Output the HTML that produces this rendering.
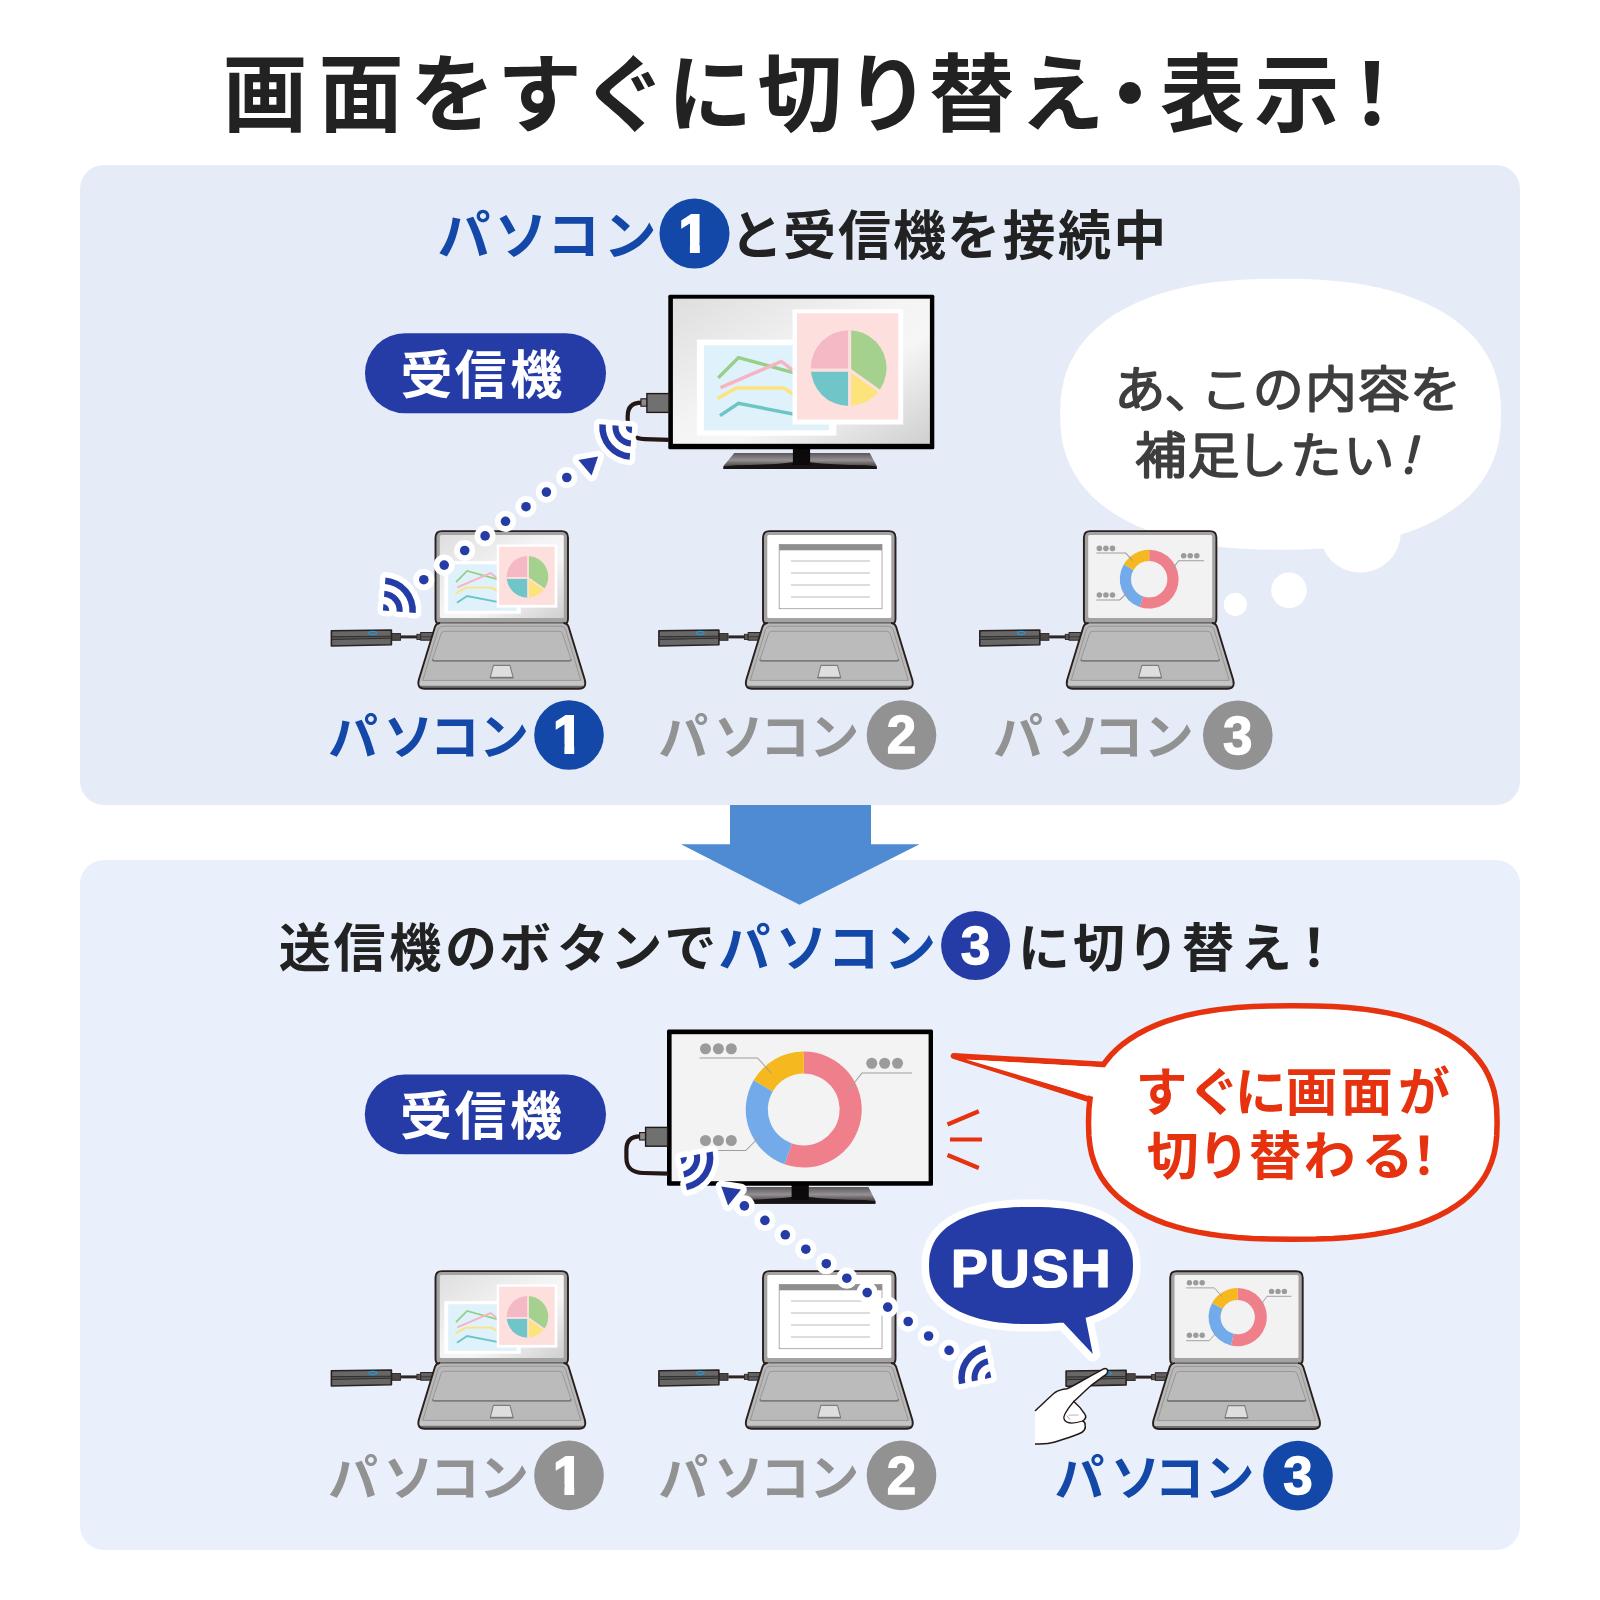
<!DOCTYPE html>
<html lang="ja"><head><meta charset="utf-8"><title>画面をすぐに切り替え・表示！</title>
<style>
html,body{margin:0;padding:0;background:#fff;width:1600px;height:1600px;overflow:hidden;}
svg{display:block;font-family:'Liberation Sans','Noto Sans CJK JP',sans-serif;}
</style></head>
<body>
<svg width="1600" height="1600" viewBox="0 0 1600 1600">
<defs>
<g id="wifi"><path d="M0,0 L0,-6.4 A6.4,6.4 0 0 1 6.4,0 Z M0,-19.8 A19.8,19.8 0 0 1 19.8,0 L13.7,0 A13.7,13.7 0 0 0 0,-13.7 Z M0,-33 A33,33 0 0 1 33,0 L26.5,0 A26.5,26.5 0 0 0 0,-26.5 Z" fill="#fff" stroke="#fff" stroke-width="11" stroke-linejoin="round"/><path d="M0,0 L0,-6.4 A6.4,6.4 0 0 1 6.4,0 Z M0,-19.8 A19.8,19.8 0 0 1 19.8,0 L13.7,0 A13.7,13.7 0 0 0 0,-13.7 Z M0,-33 A33,33 0 0 1 33,0 L26.5,0 A26.5,26.5 0 0 0 0,-26.5 Z" fill="#253ba6"/></g>
<linearGradient id="scr" x1="0" y1="0" x2="1" y2="1">
<stop offset="0" stop-color="#dedede"/><stop offset="0.45" stop-color="#f4f4f4"/><stop offset="0.62" stop-color="#f6f6f6"/><stop offset="1" stop-color="#cfcfcf"/></linearGradient>
<linearGradient id="stand" x1="0" y1="0" x2="0" y2="1">
<stop offset="0" stop-color="#5c575a"/><stop offset="0.45" stop-color="#959093"/><stop offset="0.8" stop-color="#4e4a4c"/><stop offset="1" stop-color="#1c1a1b"/></linearGradient>
<g id="chartA">
<rect x="696.9" y="339.6" width="139.5" height="96.1" fill="#fff"/>
<rect x="704" y="345.3" width="125" height="85" fill="#dff1fa"/>
<g fill="none" stroke-width="3.4" stroke-linejoin="miter">
<polyline points="718.3,377.9 738.5,357.6 796,373.3" stroke="#96cf86"/>
<polyline points="720.5,387.6 781.3,361.5 796,372.6" stroke="#f7b3c2"/>
<polyline points="717.6,398.6 736.3,388 783.5,388 796,395.8" stroke="#fde37c"/>
<polyline points="720,415.7 738.5,403.3 796,414.6" stroke="#6cc5c4"/>
</g>
<rect x="792.5" y="309.3" width="110.7" height="115.2" fill="#fff"/>
<rect x="797" y="313.3" width="101.3" height="106.2" fill="#fde0dd"/>
<clipPath id="pieclip"><circle cx="848.7" cy="368.1" r="37.9"/></clipPath>
<g clip-path="url(#pieclip)" stroke="#fde0dd" stroke-width="3" stroke-linejoin="miter">
<path d="M849.6,370.1 L849.6,320 L900,320 L900,405.7 Z" fill="#a4d18e"/>
<path d="M849.6,370.1 L900,405.7 L900,420 L849.6,420 Z" fill="#fde37c"/>
<path d="M849.6,370.1 L849.6,420 L800,420 L800,370.1 Z" fill="#70c5c8"/>
<path d="M849.6,370.1 L800,370.1 L800,320 L849.6,320 Z" fill="#f5b9c6"/>
</g>
</g>
<g id="chartB">
<path d="M803.75,1051.50 A58,58 0 1 1 784.58,1164.24 L791.88,1143.38 A35.9,35.9 0 1 0 803.75,1073.60 Z" fill="#f07f8c"/>
<path d="M784.58,1164.24 A58,58 0 0 1 753.67,1080.24 L772.75,1091.39 A35.9,35.9 0 0 0 791.88,1143.38 Z" fill="#72aaea"/>
<path d="M753.67,1080.24 A58,58 0 0 1 803.75,1051.50 L803.75,1073.60 A35.9,35.9 0 0 0 772.75,1091.39 Z" fill="#f5b81f"/>
<g fill="#9b9b9b"><circle cx="705.50" cy="1048.75" r="5.5"/><circle cx="718.40" cy="1048.75" r="5.5"/><circle cx="731.30" cy="1048.75" r="5.5"/><circle cx="871.75" cy="1063.25" r="5.5"/><circle cx="884.65" cy="1063.25" r="5.5"/><circle cx="897.55" cy="1063.25" r="5.5"/><circle cx="705.50" cy="1140.5" r="5.5"/><circle cx="718.40" cy="1140.5" r="5.5"/><circle cx="731.30" cy="1140.5" r="5.5"/></g>
<g fill="none" stroke="#9e9e9e" stroke-width="1.05">
<polyline vector-effect="non-scaling-stroke" points="699.5,1058 757.5,1058 771.25,1073"/>
<polyline vector-effect="non-scaling-stroke" points="912,1073 862,1073 847,1092"/>
<polyline vector-effect="non-scaling-stroke" points="699.5,1150.5 745.75,1150.5 761.25,1135"/>
</g></g>
<g id="chartB2">
<path d="M68.40,17.50 A29.2,29.2 0 1 1 61.63,75.11 L64.41,63.43 A17.2,17.2 0 1 0 68.40,29.50 Z" fill="#f07f8c"/>
<path d="M61.63,75.11 A29.2,29.2 0 0 1 42.81,32.63 L53.33,38.41 A17.2,17.2 0 0 0 64.41,63.43 Z" fill="#72aaea"/>
<path d="M42.81,32.63 A29.2,29.2 0 0 1 68.40,17.50 L68.40,29.50 A17.2,17.2 0 0 0 53.33,38.41 Z" fill="#f5b81f"/>
<g fill="#9b9b9b"><circle cx="20.10" cy="12.3" r="2.7"/><circle cx="26.50" cy="12.3" r="2.7"/><circle cx="32.90" cy="12.3" r="2.7"/><circle cx="102.30" cy="21" r="2.7"/><circle cx="108.70" cy="21" r="2.7"/><circle cx="115.10" cy="21" r="2.7"/><circle cx="20.10" cy="64.8" r="2.7"/><circle cx="26.50" cy="64.8" r="2.7"/><circle cx="32.90" cy="64.8" r="2.7"/></g>
<g fill="none" stroke="#9e9e9e" stroke-width="0.95">
<polyline points="16.8,17.5 45.1,17.5 52.6,26.2"/>
<polyline points="122.1,25.9 97.6,25.9 90.1,36.7"/>
<polyline points="16.8,70.3 39.9,70.3 47.7,61.6"/>
</g></g>
<g id="doc">
<rect x="17.1" y="14.3" width="102.8" height="64.2" fill="#fff" stroke="#9a9a9a" stroke-width="0.8"/>
<rect x="17.1" y="14.3" width="102.8" height="5.8" fill="#8e8e8e"/>
<g stroke="#d2d2d2" stroke-width="1.5"><path d="M28.9,30.9H107.8M28.9,42.8H107.8M28.9,54.9H107.8M28.9,66.8H107.8"/></g>
</g>
<g id="dongle">
<path d="M-33.8,106.7 H-17" stroke="#2e2623" stroke-width="3" fill="none"/>
<rect x="-43" y="103.3" width="8.9" height="6.8" fill="#4a4645" stroke="#2e2623" stroke-width="0.9"/>
<rect x="-17.7" y="104.1" width="3.8" height="5.2" fill="#5a5655" stroke="#2e2623" stroke-width="0.9"/>
<rect x="-13.9" y="102.3" width="13" height="7.7" fill="#626262" stroke="#2e2623" stroke-width="1"/>
<path d="M-13.5,106.6 H-2" stroke="#2e2a29" stroke-width="0.8"/>
<path d="M-103.2,100.6 L-43.2,99.8 L-43.2,114.5 L-103.2,115.8 Z" fill="#676767" stroke="#2a2220" stroke-width="1.6" stroke-linejoin="round"/>
<path d="M-102.6,106.5 L-43.8,106 L-43.8,108 L-102.6,109.3 Z" fill="#545454"/>
<path d="M-102.8,106.5 L-43.6,106 M-102.8,109.3 L-43.6,108" stroke="#2e2827" stroke-width="0.9" fill="none"/>
<ellipse cx="-61.8" cy="102.8" rx="3.8" ry="1.6" fill="none" stroke="#1e9be0" stroke-width="1.1"/>
</g>
<g id="lid">
<path d="M0.9,7.4 Q0.9,0.9 7.4,0.9 L126.9,0.9 Q133.4,0.9 133.4,7.4 L133.4,88.6 Q133.4,93.8 129.4,93.8 L4.9,93.8 Q0.9,93.8 0.9,88.6 Z" fill="#a3a3a3" stroke="#2a1f1c" stroke-width="1.9"/>
</g>
<g id="base">
<path d="M7,92.6 L127.4,92.6 Q132.6,92.6 134,96.6 L150.2,149.6 Q152.4,158.6 144.3,158.6 L-9.9,158.6 Q-18,158.6 -15.8,149.6 L0.4,96.6 Q1.8,92.6 7,92.6 Z" fill="#b9b9b9"/><path d="M6,92.7 L128.4,92.7" fill="none" stroke="#5c5655" stroke-width="1.2"/>
<path d="M-13.6,150.2 L148,150.2 L149.4,154 Q150.2,157.6 144.3,157.6 L-9.9,157.6 Q-15.8,157.6 -15,154 Z" fill="#c5c5c5"/>
<path d="M-14.6,155.6 L149,155.6 Q149.6,157.7 144.3,157.7 L-9.9,157.7 Q-15.2,157.7 -14.6,155.6 Z" fill="#727272"/>
<path d="M8.4,96 L126,96 Q129.8,96 130.9,99 L146.2,150.2 L-11.8,150.2 L3.5,99 Q4.6,96 8.4,96 Z" fill="none" stroke="#8a8a8a" stroke-width="0.75" stroke-linejoin="round"/>
<path d="M10,101.1 L124.4,101.1 Q127,101.1 127.8,103.2 L136.2,128.4 Q136.9,130.4 134.5,130.4 L-0.1,130.4 Q-2.5,130.4 -1.8,128.4 L6.6,103.2 Q7.4,101.1 10,101.1 Z" fill="#bbbbbb" stroke="#8f8f8f" stroke-width="0.8" stroke-linejoin="round"/>
<path d="M-1.6,129.2 Q-2.4,130.6 -0.1,130.6 L134.5,130.6 Q136.8,130.6 136,129.2" fill="none" stroke="#7c7c7c" stroke-width="1.8"/>
<path d="M58.8,135.2 L75.4,135.2 L78.6,147.4 L55.6,147.4 Z" fill="#dedede" stroke="#7e7e7e" stroke-width="1.1" stroke-linejoin="round"/>
<path d="M55.6,147.4 L78.6,147.4" stroke="#777" stroke-width="1.6"/>
<path d="M129.4,92.75 Q132.8,93 134,96.6 L150.2,149.6 Q152.4,158.6 144.3,158.6 L-9.9,158.6 Q-18,158.6 -15.8,149.6 L0.4,96.6 Q1.6,93 5,92.75" fill="none" stroke="#2a1f1c" stroke-width="1.9" stroke-linejoin="round" stroke-linecap="round"/>
</g>
</defs>
<rect x="80" y="165" width="1440" height="640" rx="24" fill="#e5ecf8"/>
<rect x="80" y="860" width="1440" height="690" rx="24" fill="#e9f0fb"/>
<polygon points="730,805 871,805 871,844.3 919.6,844.3 799.5,904.8 681,844.3 730,844.3" fill="#4f8bd2"/>
<text x="265.0 361.0 452.5 539.5 624.5 710.0 800.0 887.5 971.5 1062.0 1130.0 1202.5 1297.0 1372.0" y="124.8" font-size="85" font-weight="700" fill="#222222" text-anchor="middle" >画面をすぐに切り替え・表示！</text>
<text x="464.0 521.0 573.5 630.0" y="254.6" font-size="53" font-weight="700" fill="#1348a8" text-anchor="middle" >パソコン</text>
<circle cx="694.5" cy="233.6" r="35" fill="#1348a8"/><text x="693.5" y="252.0" font-size="53" font-weight="700" fill="#fff" stroke="#fff" stroke-width="2.2" stroke-linejoin="miter" text-anchor="middle">1</text><rect x="678.5" y="243.0" width="11.4" height="12" fill="#1348a8"/><rect x="699.8" y="243.0" width="11" height="12" fill="#1348a8"/>
<text x="756.6 809.5 864.5 919.5 973.7 1029.0 1084.5 1139.8" y="254.8" font-size="53" font-weight="700" fill="#222222" text-anchor="middle" >と受信機を接続中</text>
<rect x="365" y="333.3" width="241" height="80" rx="40" fill="#253ba6"/>
<text x="426.5 480.5 536.3" y="394" font-size="52" font-weight="700" fill="#fff" text-anchor="middle" >受信機</text>
<path d="M1501.0,414.2 L1500.6,427.5 L1499.4,438.2 L1497.4,447.9 L1494.6,457.1 L1491.0,465.8 L1486.6,474.0 L1481.5,481.9 L1475.6,489.3 L1469.0,496.4 L1461.6,503.0 L1453.5,509.3 L1444.7,515.1 L1435.2,520.5 L1425.1,525.5 L1414.2,530.0 L1402.8,534.1 L1390.7,537.7 L1377.9,540.9 L1364.5,543.6 L1350.4,545.8 L1335.4,547.5 L1319.6,548.7 L1302.2,549.5 L1280.6,549.7 L1259.0,549.5 L1241.6,548.7 L1225.8,547.5 L1210.8,545.8 L1196.7,543.6 L1183.3,540.9 L1170.5,537.7 L1158.4,534.1 L1147.0,530.0 L1136.1,525.5 L1126.0,520.5 L1116.5,515.1 L1107.7,509.3 L1099.6,503.0 L1092.2,496.4 L1085.6,489.3 L1079.7,481.9 L1074.6,474.0 L1070.2,465.8 L1066.6,457.1 L1063.8,447.9 L1061.8,438.2 L1060.6,427.5 L1060.2,414.2 L1060.6,400.9 L1061.8,390.2 L1063.8,380.5 L1066.6,371.3 L1070.2,362.6 L1074.6,354.4 L1079.7,346.5 L1085.6,339.1 L1092.2,332.0 L1099.6,325.4 L1107.7,319.1 L1116.5,313.3 L1126.0,307.9 L1136.1,302.9 L1147.0,298.4 L1158.4,294.3 L1170.5,290.7 L1183.3,287.5 L1196.7,284.8 L1210.8,282.6 L1225.8,280.9 L1241.6,279.7 L1259.0,278.9 L1280.6,278.7 L1302.2,278.9 L1319.6,279.7 L1335.4,280.9 L1350.4,282.6 L1364.5,284.8 L1377.9,287.5 L1390.7,290.7 L1402.8,294.3 L1414.2,298.4 L1425.1,302.9 L1435.2,307.9 L1444.7,313.3 L1453.5,319.1 L1461.6,325.4 L1469.0,332.0 L1475.6,339.1 L1481.5,346.5 L1486.6,354.4 L1491.0,362.6 L1494.6,371.3 L1497.4,380.5 L1499.4,390.2 L1500.6,400.9Z" fill="#fff"/>
<circle cx="1360.3" cy="532" r="40.6" fill="#fff"/><circle cx="1289" cy="590.3" r="17.8" fill="#fff"/><circle cx="1235.3" cy="604.4" r="11.6" fill="#fff"/>
<g transform="scale(1.05,1)"><text x="1085.7 1133.8 1167.6 1217.4 1267.6 1317.9 1367.0" y="407.5" font-size="48.5" font-weight="300" fill="#3e3e3e" text-anchor="middle" stroke="#3e3e3e" stroke-width="2.8" stroke-linejoin="round" stroke-linecap="round">あ、この内容を</text></g>
<g transform="scale(1.05,1)"><text x="1105.5 1155.6 1201.4 1253.1 1303.8" y="473" font-size="48.5" font-weight="300" fill="#3e3e3e" text-anchor="middle" stroke="#3e3e3e" stroke-width="2.8" stroke-linejoin="round" stroke-linecap="round">補足したい</text></g>
<text x="1408" y="473" font-size="48.5" font-weight="300" fill="#3e3e3e" stroke="#3e3e3e" stroke-width="2.8" stroke-linejoin="round" text-anchor="middle" font-style="italic">！</text>
<g transform="translate(668.3,294.8)"><path d="M66,158.2 L201.5,158.2 L208.4,171.2 L208.4,174.2 L55.2,174.2 L55.2,171.2 Z" fill="url(#stand)"/><path d="M55.2,171.6 L67.6,170.5 Q103.7,170.0 124.6,167.4 L141.6,167.4 Q162.7,170.0 197.7,170.5 L208.4,171.6 L208.4,174.2 L55.2,174.2 Z" fill="#171415"/><rect x="124.6" y="152.4" width="17.2" height="17.8" fill="#0c0a0b"/><rect x="0" y="0" width="266" height="154.4" rx="1.5" fill="#000"/><rect x="4.6" y="3.9" width="257" height="145.1" fill="url(#scr)"/></g>
<use href="#chartA"/>
<g transform="translate(668.3,393.2)"><path d="M-27,9.4 C-36.6,9.4 -40.6,14.8 -40.6,22.8 L-40.6,30.8 C-40.6,41.5 -34.3,45.6 -23.3,46 L1,46.6" fill="none" stroke="#231815" stroke-width="4.2" stroke-linecap="butt"/><rect x="-27.4" y="5.6" width="6.4" height="7.4" fill="#8c8c8c" stroke="#231815" stroke-width="1.1"/><rect x="-21.4" y="0.4" width="22" height="18.8" fill="#717071" stroke="#231815" stroke-width="1.4"/></g>
<g transform="translate(434.6,530.2)"><use href="#dongle"/><use href="#lid"/><rect x="5.2" y="4.7" width="124" height="83" rx="1.5" fill="url(#scr)"/><use href="#chartA" transform="translate(9.7,30.9) scale(0.548) translate(-696.9,-339.6)"/><use href="#base"/></g>
<g transform="translate(762.1,530.2)"><use href="#dongle"/><use href="#lid"/><rect x="5.2" y="4.7" width="124" height="83" rx="1.5" fill="#fff"/><use href="#doc"/><use href="#base"/></g>
<g transform="translate(1083,530.2)"><use href="#dongle"/><use href="#lid"/><rect x="5.2" y="4.7" width="124" height="83" rx="1.5" fill="#f2f2f2"/><use href="#chartB" transform="translate(66.2,49) scale(0.507) translate(-803.75,-1109.5)"/><use href="#base"/></g>
<g fill="#fff" stroke="#fff" stroke-width="11.6" stroke-linejoin="round"><circle cx="423.8" cy="579.7" r="4.8"/><circle cx="444.2" cy="565.1" r="4.8"/><circle cx="464.7" cy="550.5" r="4.8"/><circle cx="485.1" cy="535.9" r="4.8"/><circle cx="505.5" cy="521.3" r="4.8"/><circle cx="526.0" cy="506.7" r="4.8"/><circle cx="546.4" cy="492.1" r="4.8"/><circle cx="566.8" cy="477.5" r="4.8"/><polygon points="598.1,456.6 578.4,460.0 591.6,475.6"/></g><g fill="#253ba6"><circle cx="423.8" cy="579.7" r="4.8"/><circle cx="444.2" cy="565.1" r="4.8"/><circle cx="464.7" cy="550.5" r="4.8"/><circle cx="485.1" cy="535.9" r="4.8"/><circle cx="505.5" cy="521.3" r="4.8"/><circle cx="526.0" cy="506.7" r="4.8"/><circle cx="546.4" cy="492.1" r="4.8"/><circle cx="566.8" cy="477.5" r="4.8"/><polygon points="598.1,456.6 578.4,460.0 591.6,475.6"/></g>
<use href="#wifi" transform="translate(382.9,610.4) rotate(4.5)"/>
<use href="#wifi" transform="translate(632.2,426.8) rotate(184.5)"/>
<text x="353.0 408.5 454.7 504.0" y="755.4" font-size="50" font-weight="700" fill="#1348a8" text-anchor="middle" >パソコン</text><circle cx="569" cy="735" r="34.8" fill="#1348a8"/><text x="568.0" y="753.4" font-size="53" font-weight="700" fill="#fff" stroke="#fff" stroke-width="2.2" stroke-linejoin="miter" text-anchor="middle">1</text><rect x="553.0" y="744.4" width="11.4" height="12" fill="#1348a8"/><rect x="574.2" y="744.4" width="11" height="12" fill="#1348a8"/>
<text x="683.3 738.8 785.0 834.3" y="755.4" font-size="50" font-weight="700" fill="#929292" text-anchor="middle" >パソコン</text><circle cx="901.5" cy="735" r="34.8" fill="#929292"/><text x="901.5" y="753.4" font-size="53" font-weight="700" fill="#fff" stroke="#fff" stroke-width="1.3" text-anchor="middle">2</text>
<text x="1017.9 1075.0 1118.6 1168.8" y="755.4" font-size="50" font-weight="700" fill="#929292" text-anchor="middle" >パソコン</text><circle cx="1237.8" cy="735.2" r="34.8" fill="#929292"/><text x="1237.8" y="753.6" font-size="53" font-weight="700" fill="#fff" stroke="#fff" stroke-width="1.3" text-anchor="middle">3</text>
<text x="304.7 359.6 415.2 471.0 525.0 583.0 636.3 690.3" y="967" font-size="52" font-weight="700" fill="#222222" text-anchor="middle" >送信機のボタンで</text>
<text x="744.4 801.4 853.6 910.0" y="967" font-size="52" font-weight="700" fill="#1348a8" text-anchor="middle" >パソコン</text>
<circle cx="975.6" cy="945.6" r="34.5" fill="#253ba6"/><text x="975.6" y="964.0" font-size="53" font-weight="700" fill="#fff" stroke="#fff" stroke-width="1.3" text-anchor="middle">3</text>
<text x="1044.0 1099.0 1153.0 1208.0 1266.0 1314.0" y="967" font-size="52" font-weight="700" fill="#222222" text-anchor="middle" >に切り替え！</text>
<rect x="364.8" y="1074.4" width="241.2" height="79.8" rx="39.9" fill="#253ba6"/>
<text x="426.0 480.5 536.0" y="1134.5" font-size="52" font-weight="700" fill="#fff" text-anchor="middle" >受信機</text>
<g transform="translate(667,1029.5)"><path d="M66,157.6 L201.5,157.6 L208.4,171.3 L208.4,174.3 L55.2,174.3 L55.2,171.3 Z" fill="url(#stand)"/><path d="M55.2,171.7 L67.6,170.6 Q103.7,170.1 124.6,167.5 L141.6,167.5 Q162.7,170.1 197.7,170.6 L208.4,171.7 L208.4,174.3 L55.2,174.3 Z" fill="#171415"/><rect x="124.6" y="154.2" width="17.2" height="16.1" fill="#0c0a0b"/><rect x="0" y="0" width="266" height="156.2" rx="1.5" fill="#000"/><rect x="4.6" y="4.7" width="257" height="147.0" fill="#f3f3f3"/></g>
<use href="#chartB"/>
<g transform="translate(667,1127)"><path d="M-27,9.4 C-36.6,9.4 -40.6,14.8 -40.6,22.8 L-40.6,30.8 C-40.6,41.5 -34.3,45.6 -23.3,46 L1,46.6" fill="none" stroke="#231815" stroke-width="4.2" stroke-linecap="butt"/><rect x="-27.4" y="5.6" width="6.4" height="7.4" fill="#8c8c8c" stroke="#231815" stroke-width="1.1"/><rect x="-21.4" y="0.4" width="22" height="18.8" fill="#717071" stroke="#231815" stroke-width="1.4"/></g>
<g stroke="#e6320f" stroke-width="4.2" fill="none"><path d="M947.5,1124.5 L978.8,1111.3 M950,1139.5 L982,1139.5 M947.5,1155 L978.8,1168"/></g>
<path d="M953.6,1055.9 L1110,1064.8 L1095,1101.3 Z" fill="#fff" stroke="#e6320f" stroke-width="5.8" stroke-linejoin="round"/>
<path d="M1497.1,1122.5 L1496.7,1135.7 L1495.7,1145.4 L1494.0,1154.1 L1491.5,1162.1 L1488.4,1169.6 L1484.6,1176.7 L1480.1,1183.3 L1474.9,1189.6 L1469.1,1195.5 L1462.6,1201.0 L1455.4,1206.2 L1447.6,1211.0 L1439.2,1215.5 L1430.1,1219.6 L1420.5,1223.3 L1410.1,1226.6 L1399.2,1229.6 L1387.5,1232.1 L1375.2,1234.3 L1362.1,1236.1 L1348.1,1237.5 L1332.9,1238.5 L1315.9,1239.1 L1292.8,1239.3 L1269.7,1239.1 L1252.7,1238.5 L1237.5,1237.5 L1223.5,1236.1 L1210.4,1234.3 L1198.1,1232.1 L1186.4,1229.6 L1175.5,1226.6 L1165.1,1223.3 L1155.5,1219.6 L1146.4,1215.5 L1138.0,1211.0 L1130.2,1206.2 L1123.0,1201.0 L1116.5,1195.5 L1110.7,1189.6 L1105.5,1183.3 L1101.0,1176.7 L1097.2,1169.6 L1094.1,1162.1 L1091.6,1154.1 L1089.9,1145.4 L1088.9,1135.7 L1088.5,1122.5 L1088.9,1109.3 L1089.9,1099.6 L1091.6,1090.9 L1094.1,1082.9 L1097.2,1075.4 L1101.0,1068.3 L1105.5,1061.7 L1110.7,1055.4 L1116.5,1049.5 L1123.0,1044.0 L1130.2,1038.8 L1138.0,1034.0 L1146.4,1029.5 L1155.5,1025.4 L1165.1,1021.7 L1175.5,1018.4 L1186.4,1015.4 L1198.1,1012.9 L1210.4,1010.7 L1223.5,1008.9 L1237.5,1007.5 L1252.7,1006.5 L1269.7,1005.9 L1292.8,1005.7 L1315.9,1005.9 L1332.9,1006.5 L1348.1,1007.5 L1362.1,1008.9 L1375.2,1010.7 L1387.5,1012.9 L1399.2,1015.4 L1410.1,1018.4 L1420.5,1021.7 L1430.1,1025.4 L1439.2,1029.5 L1447.6,1034.0 L1455.4,1038.8 L1462.6,1044.0 L1469.1,1049.5 L1474.9,1055.4 L1480.1,1061.7 L1484.6,1068.3 L1488.4,1075.4 L1491.5,1082.9 L1494.0,1090.9 L1495.7,1099.6 L1496.7,1109.3Z" fill="#fff" stroke="#e6320f" stroke-width="5.5"/>
<path d="M966,1059.6 L1112,1067.8 L1097,1098 Z" fill="#fff"/>
<text x="1161.5 1214.0 1260.8 1311.5 1366.8 1424.0" y="1111" font-size="52" font-weight="700" fill="#e6320f" text-anchor="middle" >すぐに画面が</text>
<text x="1172.8 1223.5 1275.0 1329.4 1387.5 1424.0" y="1175" font-size="52" font-weight="700" fill="#e6320f" text-anchor="middle" >切り替わる！</text>
<g transform="translate(434.6,1270.2)"><use href="#dongle"/><use href="#lid"/><rect x="5.2" y="4.7" width="124" height="83" rx="1.5" fill="url(#scr)"/><use href="#chartA" transform="translate(9.7,30.9) scale(0.548) translate(-696.9,-339.6)"/><use href="#base"/></g>
<g transform="translate(762.1,1270.2)"><use href="#dongle"/><use href="#lid"/><rect x="5.2" y="4.7" width="124" height="83" rx="1.5" fill="#fff"/><use href="#doc"/><use href="#base"/></g>
<g transform="translate(1169.3,1270.4)"><use href="#dongle"/><use href="#lid"/><rect x="5.2" y="4.7" width="124" height="83" rx="1.5" fill="#f2f2f2"/><use href="#chartB2"/><use href="#base"/></g>
<g fill="#fff" stroke="#fff" stroke-width="11.6" stroke-linejoin="round"><circle cx="744.4" cy="1205.9" r="4.8"/><circle cx="764.9" cy="1220.4" r="4.8"/><circle cx="785.3" cy="1234.8" r="4.8"/><circle cx="805.8" cy="1249.2" r="4.8"/><circle cx="826.3" cy="1263.7" r="4.8"/><circle cx="846.8" cy="1278.2" r="4.8"/><circle cx="867.2" cy="1292.6" r="4.8"/><circle cx="887.7" cy="1307.1" r="4.8"/><circle cx="908.2" cy="1321.5" r="4.8"/><circle cx="928.6" cy="1336.0" r="4.8"/><circle cx="949.1" cy="1350.4" r="4.8"/><polygon points="721.3,1186.4 741.0,1189.5 728.1,1205.4"/></g><g fill="#253ba6"><circle cx="744.4" cy="1205.9" r="4.8"/><circle cx="764.9" cy="1220.4" r="4.8"/><circle cx="785.3" cy="1234.8" r="4.8"/><circle cx="805.8" cy="1249.2" r="4.8"/><circle cx="826.3" cy="1263.7" r="4.8"/><circle cx="846.8" cy="1278.2" r="4.8"/><circle cx="867.2" cy="1292.6" r="4.8"/><circle cx="887.7" cy="1307.1" r="4.8"/><circle cx="908.2" cy="1321.5" r="4.8"/><circle cx="928.6" cy="1336.0" r="4.8"/><circle cx="949.1" cy="1350.4" r="4.8"/><polygon points="721.3,1186.4 741.0,1189.5 728.1,1205.4"/></g>
<use href="#wifi" transform="translate(680.4,1158) rotate(78.5)"/>
<use href="#wifi" transform="translate(991.3,1377.6) rotate(258.5)"/>
<g>
<path d="M1035,1410.9 C1041,1405.5 1049,1397.5 1055,1392.5 C1059,1390 1063,1389.3 1067,1388.8 C1073,1386 1079,1382.5 1085,1379 C1090,1376.2 1095,1373.5 1100,1370.8 C1102,1369.6 1104,1368.4 1105.6,1368.5 C1107.8,1368.7 1108.3,1371.6 1106.8,1373.8 C1102,1377.5 1097,1381 1092.5,1384.3 C1086,1390 1080,1395.8 1073.8,1401.5 C1078,1405 1082,1409.5 1085,1414.3 C1086.4,1416.4 1085.8,1418.8 1082.8,1421 C1084.6,1422 1085.3,1423.3 1085.1,1424.8 C1085.7,1427 1085.2,1428.8 1084.3,1430 C1083,1432 1081,1433 1079,1433.8 C1071,1437 1063,1439.5 1055,1442 C1048,1444.2 1041,1444.2 1035,1443.9 Z" fill="#fff"/>
<path d="M1035,1410.9 C1041,1405.5 1049,1397.5 1055,1392.5 C1059,1390 1063,1389.3 1067,1388.8 C1073,1386 1079,1382.5 1085,1379 C1090,1376.2 1095,1373.5 1100,1370.8 C1102,1369.6 1104,1368.4 1105.6,1368.5 C1107.8,1368.7 1108.3,1371.6 1106.8,1373.8 C1102,1377.5 1097,1381 1092.5,1384.3 C1086,1390 1080,1395.8 1073.8,1401.5 C1078,1405 1082,1409.5 1085,1414.3 C1086.4,1416.4 1085.8,1418.8 1082.8,1421 C1084.6,1422 1085.3,1423.3 1085.1,1424.8 C1085.7,1427 1085.2,1428.8 1084.3,1430 C1083,1432 1081,1433 1079,1433.8 C1071,1437 1063,1439.5 1055,1442 C1048,1444.2 1041,1444.2 1035,1443.9" fill="none" stroke="#231815" stroke-width="1.5" stroke-linejoin="round" stroke-linecap="butt"/>
<path d="M1073.8,1401.5 C1070,1406 1067,1410 1064.8,1414.3 C1063.2,1417.6 1063.8,1420.6 1067,1422.2 C1071,1424 1077,1422.8 1082.8,1421" fill="none" stroke="#231815" stroke-width="1.3" stroke-linecap="round"/>
<path d="M1068.5,1415.2 L1078.6,1415" fill="none" stroke="#8a8584" stroke-width="0.6"/>
<path d="M1066.8,1415.6 L1070,1419.6" fill="none" stroke="#6a6564" stroke-width="0.6"/>
</g>
<path d="M1133.0,1265.5 L1132.8,1271.3 L1132.3,1275.9 L1131.3,1280.1 L1130.0,1284.0 L1128.4,1287.8 L1126.4,1291.4 L1124.0,1294.8 L1121.2,1298.0 L1118.2,1301.0 L1114.8,1303.9 L1111.0,1306.6 L1106.9,1309.1 L1102.6,1311.5 L1097.9,1313.6 L1092.9,1315.6 L1087.5,1317.3 L1081.9,1318.9 L1076.0,1320.3 L1069.8,1321.4 L1063.3,1322.4 L1056.4,1323.1 L1049.0,1323.7 L1041.0,1324.0 L1031.0,1324.1 L1021.0,1324.0 L1013.0,1323.7 L1005.6,1323.1 L998.7,1322.4 L992.2,1321.4 L986.0,1320.3 L980.1,1318.9 L974.5,1317.3 L969.1,1315.6 L964.1,1313.6 L959.4,1311.5 L955.1,1309.1 L951.0,1306.6 L947.2,1303.9 L943.8,1301.0 L940.8,1298.0 L938.0,1294.8 L935.6,1291.4 L933.6,1287.8 L932.0,1284.0 L930.7,1280.1 L929.7,1275.9 L929.2,1271.3 L929.0,1265.5 L929.2,1259.7 L929.7,1255.1 L930.7,1250.9 L932.0,1247.0 L933.6,1243.2 L935.6,1239.6 L938.0,1236.2 L940.8,1233.0 L943.8,1230.0 L947.2,1227.1 L951.0,1224.4 L955.1,1221.9 L959.4,1219.5 L964.1,1217.4 L969.1,1215.4 L974.5,1213.7 L980.1,1212.1 L986.0,1210.7 L992.2,1209.6 L998.7,1208.6 L1005.6,1207.9 L1013.0,1207.3 L1021.0,1207.0 L1031.0,1206.9 L1041.0,1207.0 L1049.0,1207.3 L1056.4,1207.9 L1063.3,1208.6 L1069.8,1209.6 L1076.0,1210.7 L1081.9,1212.1 L1087.5,1213.7 L1092.9,1215.4 L1097.9,1217.4 L1102.6,1219.5 L1106.9,1221.9 L1111.0,1224.4 L1114.8,1227.1 L1118.2,1230.0 L1121.2,1233.0 L1124.0,1236.2 L1126.4,1239.6 L1128.4,1243.2 L1130.0,1247.0 L1131.3,1250.9 L1132.3,1255.1 L1132.8,1259.7Z M1059,1318 L1085,1315 L1092.8,1354 Z" fill="#fff" stroke="#fff" stroke-width="15" stroke-linejoin="round"/>
<path d="M1133.0,1265.5 L1132.8,1271.3 L1132.3,1275.9 L1131.3,1280.1 L1130.0,1284.0 L1128.4,1287.8 L1126.4,1291.4 L1124.0,1294.8 L1121.2,1298.0 L1118.2,1301.0 L1114.8,1303.9 L1111.0,1306.6 L1106.9,1309.1 L1102.6,1311.5 L1097.9,1313.6 L1092.9,1315.6 L1087.5,1317.3 L1081.9,1318.9 L1076.0,1320.3 L1069.8,1321.4 L1063.3,1322.4 L1056.4,1323.1 L1049.0,1323.7 L1041.0,1324.0 L1031.0,1324.1 L1021.0,1324.0 L1013.0,1323.7 L1005.6,1323.1 L998.7,1322.4 L992.2,1321.4 L986.0,1320.3 L980.1,1318.9 L974.5,1317.3 L969.1,1315.6 L964.1,1313.6 L959.4,1311.5 L955.1,1309.1 L951.0,1306.6 L947.2,1303.9 L943.8,1301.0 L940.8,1298.0 L938.0,1294.8 L935.6,1291.4 L933.6,1287.8 L932.0,1284.0 L930.7,1280.1 L929.7,1275.9 L929.2,1271.3 L929.0,1265.5 L929.2,1259.7 L929.7,1255.1 L930.7,1250.9 L932.0,1247.0 L933.6,1243.2 L935.6,1239.6 L938.0,1236.2 L940.8,1233.0 L943.8,1230.0 L947.2,1227.1 L951.0,1224.4 L955.1,1221.9 L959.4,1219.5 L964.1,1217.4 L969.1,1215.4 L974.5,1213.7 L980.1,1212.1 L986.0,1210.7 L992.2,1209.6 L998.7,1208.6 L1005.6,1207.9 L1013.0,1207.3 L1021.0,1207.0 L1031.0,1206.9 L1041.0,1207.0 L1049.0,1207.3 L1056.4,1207.9 L1063.3,1208.6 L1069.8,1209.6 L1076.0,1210.7 L1081.9,1212.1 L1087.5,1213.7 L1092.9,1215.4 L1097.9,1217.4 L1102.6,1219.5 L1106.9,1221.9 L1111.0,1224.4 L1114.8,1227.1 L1118.2,1230.0 L1121.2,1233.0 L1124.0,1236.2 L1126.4,1239.6 L1128.4,1243.2 L1130.0,1247.0 L1131.3,1250.9 L1132.3,1255.1 L1132.8,1259.7Z M1059,1318 L1085,1315 L1092.8,1354 Z" fill="#253ba6"/>
<g transform="scale(1.035,1)"><text x="996.7" y="1287.4" font-size="54" font-weight="700" fill="#fff" stroke="#fff" stroke-width="1.2" stroke-linejoin="round" letter-spacing="1.6" text-anchor="middle">PUSH</text></g>
<text x="353.0 408.5 454.7 504.0" y="1496" font-size="50" font-weight="700" fill="#929292" text-anchor="middle" >パソコン</text><circle cx="569" cy="1475.4" r="34.8" fill="#929292"/><text x="568.0" y="1493.8" font-size="53" font-weight="700" fill="#fff" stroke="#fff" stroke-width="2.2" stroke-linejoin="miter" text-anchor="middle">1</text><rect x="553.0" y="1484.8" width="11.4" height="12" fill="#929292"/><rect x="574.2" y="1484.8" width="11" height="12" fill="#929292"/>
<text x="683.3 738.8 785.0 834.3" y="1496" font-size="50" font-weight="700" fill="#929292" text-anchor="middle" >パソコン</text><circle cx="901.5" cy="1475.4" r="34.8" fill="#929292"/><text x="901.5" y="1493.8" font-size="53" font-weight="700" fill="#fff" stroke="#fff" stroke-width="1.3" text-anchor="middle">2</text>
<text x="1079.4 1135.6 1179.4 1229.4" y="1496" font-size="50" font-weight="700" fill="#1348a8" text-anchor="middle" >パソコン</text><circle cx="1298" cy="1475.6" r="34.8" fill="#1348a8"/><text x="1298" y="1494.0" font-size="53" font-weight="700" fill="#fff" stroke="#fff" stroke-width="1.3" text-anchor="middle">3</text>
</svg>
</body></html>
